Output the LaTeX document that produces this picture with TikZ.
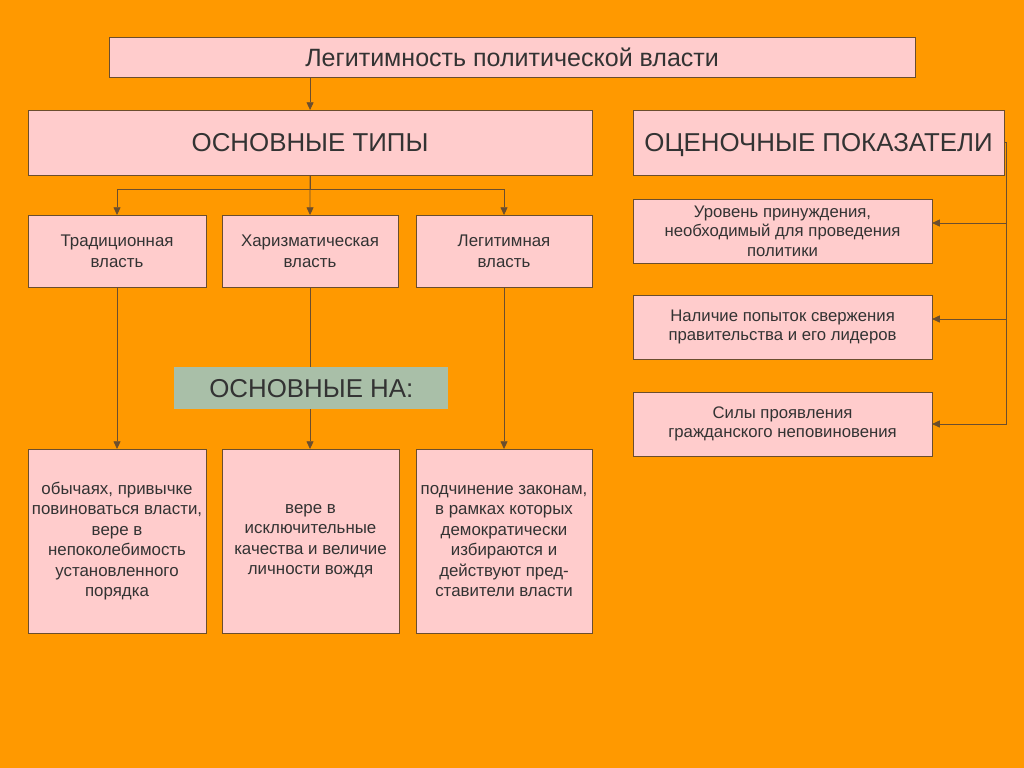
\documentclass[tikz,border=0pt]{standalone}
\usepackage{fontspec}
\setmainfont{Liberation Sans}
\usetikzlibrary{arrows.meta,calc}
\definecolor{slidebg}{HTML}{FF9900}
\definecolor{boxpink}{HTML}{FFCCCC}
\definecolor{boxline}{HTML}{6B4E2E}
\definecolor{sage}{HTML}{A9BFA8}
\definecolor{inkgrey}{HTML}{333333}
\begin{document}
\begin{tikzpicture}[
  x=0.025cm, y=-0.025cm,
  >={Triangle[length=5.5pt,width=5pt]},
  pinkbox/.style={rectangle, draw=boxline, fill=boxpink, line width=0.6pt,
                  anchor=north west, align=center, text=inkgrey,
                  inner sep=0pt, outer sep=0pt},
  titlebox/.style={pinkbox, minimum width=20.15cm, minimum height=1cm,
                   font=\fontsize{17.8}{20}\selectfont},
  headbox/.style={pinkbox, minimum height=1.625cm, text height=13pt,
                  text depth=0pt, font=\fontsize{18.4}{22}\selectfont},
  typebox/.style={pinkbox, minimum width=4.4cm, minimum height=1.8cm,
                  font=\fontsize{12}{14.8}\selectfont},
  basebox/.style={pinkbox, minimum width=4.4cm, minimum height=4.6cm,
                  font=\fontsize{12}{14.6}\selectfont},
  markbox/.style={pinkbox, minimum width=7.475cm, minimum height=1.6cm,
                  font=\fontsize{11.9}{13.9}\selectfont},
  flow/.style={->, draw=boxline, line width=0.6pt}
]
\fill[slidebg] (0,0) rectangle (1024,768);

\node[titlebox] (legit) at (109,37) {Легитимность политической власти};
\node[headbox, minimum width=14.1cm]  (types) at (28,110)  {ОСНОВНЫЕ ТИПЫ};
\node[headbox, minimum width=9.275cm] (marks) at (633,110) {ОЦЕНОЧНЫЕ ПОКАЗАТЕЛИ};

\node[typebox, minimum width=4.45cm] (trad)   at (28,215)  {Традиционная\\власть};
\node[typebox]                       (charis) at (222,215) {Харизматическая\\власть};
\node[typebox]                       (legal)  at (416,215) {Легитимная\\власть};

\node[basebox, minimum width=4.45cm] (custom) at (28,449)  {обычаях, привычке\\повиноваться власти,\\вере в\\непоколебимость\\установленного\\порядка};
\node[basebox, minimum width=4.425cm] (faith) at (222,449) {вере в\\исключительные\\качества и величие\\личности вождя};
\node[basebox]                       (law)    at (416,449) {подчинение законам,\\в рамках которых\\демократически\\избираются и\\действуют пред-\\ставители власти};

\node[markbox] (m1) at (633,199) {Уровень принуждения,\\необходимый для проведения\\политики};
\node[markbox] (m2) at (633,295) {Наличие попыток свержения\\правительства и его лидеров};
\node[markbox] (m3) at (633,392) {Силы проявления\\гражданского неповиновения};

\draw[flow] (legit.south -| types.north) -- (types.north);
\draw[flow] (types.south) -- (charis.north);
\draw[flow] (types.south) -- ++(0,14) -| (trad.north);
\draw[flow] (types.south) -- ++(0,14) -| (legal.north);

\draw[flow] (trad.south) -- (trad.south |- custom.north);
\draw[flow] (charis.south) -- (charis.south |- faith.north);
\draw[flow] (legal.south) -- (legal.south |- law.north);

\coordinate (bus) at ($(marks.east)+(2,0)$);
\draw[flow] (marks.east) -- (bus) |- ($(m1.east)+(0,-8)$);
\draw[flow] (marks.east) -- (bus) |- ($(m2.east)+(0,-8)$);
\draw[flow] (marks.east) -- (bus) |- (m3.east);

\node[rectangle, fill=sage, anchor=north west, minimum width=6.85cm,
      minimum height=1.05cm, inner sep=0pt, text=inkgrey,
      font=\fontsize{18.4}{22}\selectfont] (basis) at (174,367) {ОСНОВНЫЕ НА:};
\end{tikzpicture}
\end{document}
